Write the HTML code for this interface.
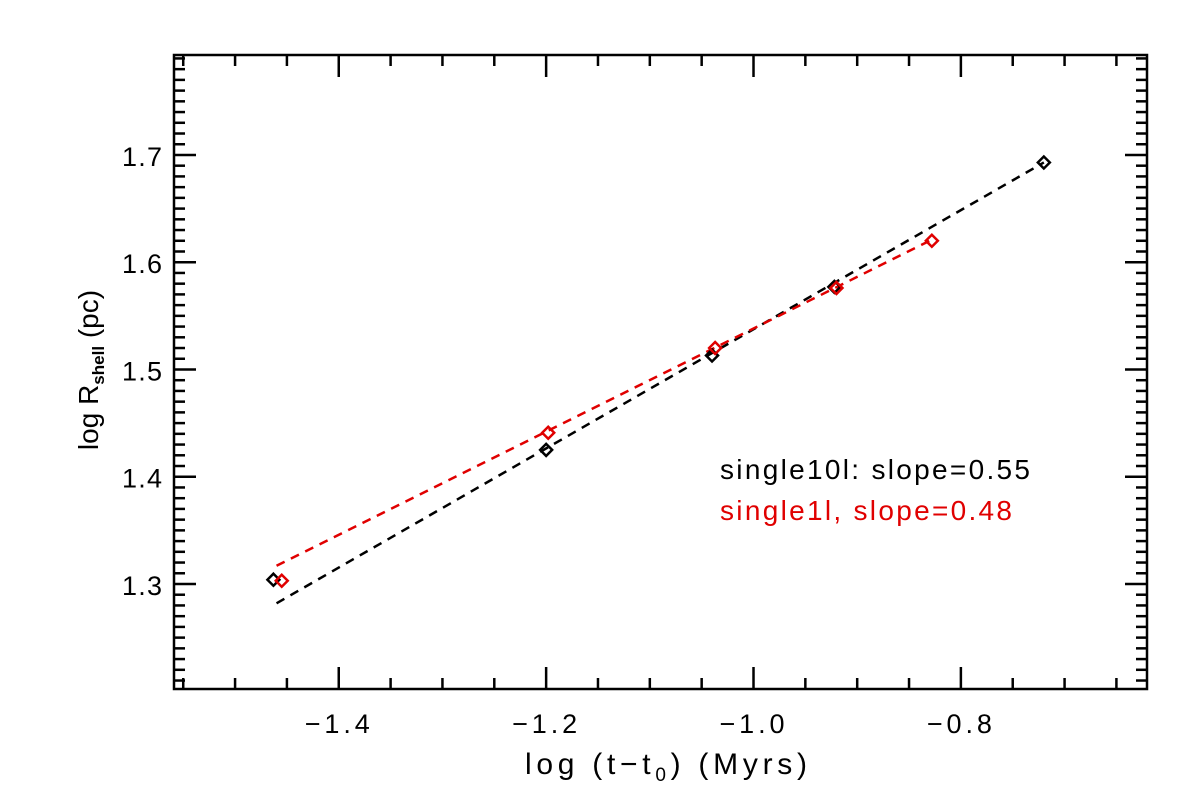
<!DOCTYPE html>
<html><head><meta charset="utf-8"><style>
body{margin:0;background:#fff}
svg{display:block;font-family:"Liberation Sans",sans-serif}
</style></head><body>
<svg id="chart" width="1200" height="800" xmlns="http://www.w3.org/2000/svg">
<rect width="1200" height="800" fill="#fff"/>
<g id="axes"></g>
<g id="marks"></g>
<text x="525" y="774" font-size="30" textLength="282" lengthAdjust="spacing">log (t−t<tspan font-size="19" dy="7">0</tspan><tspan dy="-7">) (Myrs)</tspan></text>
<text transform="translate(98,370) rotate(-90)" font-size="28" text-anchor="middle">log R<tspan font-size="17" dy="6" font-weight="bold">shell</tspan><tspan dy="-6"> (pc)</tspan></text>
<text x="720" y="479" font-size="28" fill="#000" textLength="310" lengthAdjust="spacing">single10l: slope=0.55</text>
<text x="720" y="520" font-size="28" fill="#e00000" textLength="292" lengthAdjust="spacing">single1l, slope=0.48</text>
</svg>
<script>
const xTicks=[-1.4,-1.2,-1.0,-0.8];
const xTickLabels=["−1.4","−1.2","−1.0","−0.8"];
const yTicks=[1.3,1.4,1.5,1.6,1.7];
const yTickLabels=["1.3","1.4","1.5","1.6","1.7"];
const blackX=[-1.463,-1.200,-1.040,-0.922,-0.720];
const blackY=[1.304,1.425,1.513,1.577,1.693];
const redX=[-1.455,-1.198,-1.037,-0.920,-0.828];
const redY=[1.303,1.441,1.520,1.576,1.620];
const blackFitX=[-1.46,-0.72];
const blackFitY=[1.282,1.693];
const redFitX=[-1.46,-0.83];
const redFitY=[1.317,1.620];

const L=174,R=1147,T=55,B=689;
const xMin=-1.5589,xMax=-0.6205,yMin=1.2021,yMax=1.7932;
const sx=v=>L+(v-xMin)/(xMax-xMin)*(R-L);
const sy=v=>B-(v-yMin)/(yMax-yMin)*(B-T);
const NS="http://www.w3.org/2000/svg";
function mk(tag,attrs,parent){const e=document.createElementNS(NS,tag);for(const k in attrs)e.setAttribute(k,attrs[k]);parent.appendChild(e);return e;}
const axes=document.getElementById('axes'),marks=document.getElementById('marks');
const frame=mk('rect',{x:L,y:T,width:R-L,height:B-T,fill:'none',stroke:'#000','stroke-width':2.5},axes);


for(let v=-1.55;v<=-0.62;v+=0.05){
  const vv=Math.round(v*100)/100;
  const major=xTicks.some(t=>Math.abs(t-vv)<1e-6);
  const len=major?22:11,x=sx(vv);
  const t1=mk('line',{x1:x,x2:x,y1:B,y2:B-len,stroke:'#000','stroke-width':2.5},axes);
  
  
  const t2=mk('line',{x1:x,x2:x,y1:T,y2:T+len,stroke:'#000','stroke-width':2.5},axes);
  
  
}
xTicks.forEach((v,i)=>{const t=mk('text',{x:sx(v)-34,y:733,'font-size':27,textLength:65,lengthAdjust:'spacing'},axes);t.textContent=xTickLabels[i];

});
for(let k=121;k<=179;k++){
  const v=k/100;const major=k%10===0;const len=major?22:11,y=sy(v);
  const t1=mk('line',{x1:L,x2:L+len,y1:y,y2:y,stroke:'#000','stroke-width':2.5},axes);
  
  
  const t2=mk('line',{x1:R,x2:R-len,y1:y,y2:y,stroke:'#000','stroke-width':2.5},axes);
  
  
}
yTicks.forEach((v,i)=>{const t=mk('text',{x:122,y:sy(v)+11,'font-size':27,textLength:40,lengthAdjust:'spacing'},axes);t.textContent=yTickLabels[i];

});
function fit(xs,ys,col,name){const l=mk('line',{x1:sx(xs[0]),y1:sy(ys[0]),x2:sx(xs[1]),y2:sy(ys[1]),stroke:col,'stroke-width':2.5,'stroke-dasharray':'9 7'},marks);

}
function pts(xs,ys,col,name){xs.forEach((x,i)=>{const cx=sx(x),cy=sy(ys[i]),r=6;
const p=mk('polygon',{points:`${cx},${cy-r} ${cx+r},${cy} ${cx},${cy+r} ${cx-r},${cy}`,fill:'none',stroke:col,'stroke-width':2.5},marks);

});}
fit(blackFitX,blackFitY,'#000','fit-line-single10l');
fit(redFitX,redFitY,'#e00000','fit-line-single1l');
pts(blackX,blackY,'#000','point-single10l');
pts(redX,redY,'#e00000','point-single1l');
</script>
</body></html>
